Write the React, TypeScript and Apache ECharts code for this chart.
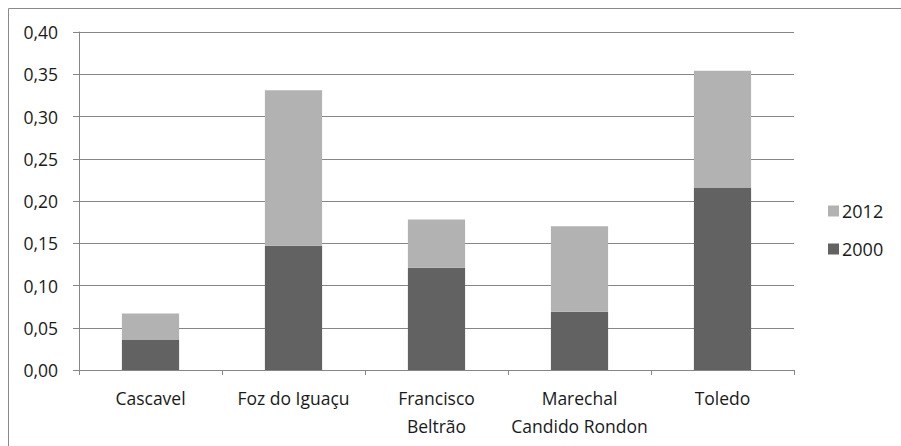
import React, { useEffect, useRef } from "react";
import * as echarts from "echarts";

const categories = ["Cascavel", "Foz do Iguaçu", "Francisco\nBeltrão", "Marechal\nCandido Rondon", "Toledo"];
const values2000 = [0.036, 0.147, 0.121, 0.069, 0.216];
const values2012 = [0.031, 0.184, 0.057, 0.101, 0.138];
const yTicks = { min: 0, max: 0.4, interval: 0.05 };

export default function App() {
  const ref = useRef<HTMLDivElement>(null);
  useEffect(() => {
    if (!ref.current) return;
    const chart = echarts.init(ref.current, null, { renderer: "svg" });
    const font = "'Open Sans', sans-serif";
    chart.setOption({
      animation: false,
      textStyle: { fontFamily: font },
      graphic: [
        {
          type: "rect",
          shape: { x: 8.5, y: 8.5, width: 900, height: 450 },
          style: { fill: "none", stroke: "#8a8a8a", lineWidth: 1 },
          silent: true,
        },
      ],
      grid: { left: 79, right: 107, top: 32, bottom: 76, containLabel: false },
      legend: {
        orient: "vertical",
        left: 828,
        top: 202,
        padding: 0,
        itemWidth: 11,
        itemHeight: 11,
        itemGap: 20,
        icon: "rect",
        data: ["2012", "2000"],
        textStyle: { fontFamily: font, fontSize: 18, color: "#1a1a1a", padding: [0, 0, 0, -2] },
      },
      xAxis: {
        type: "category",
        data: categories,
        axisLine: { lineStyle: { color: "#868686", width: 1 } },
        axisTick: { show: true, length: 5, lineStyle: { color: "#868686" } },
        axisLabel: { interval: 0, fontFamily: font, fontSize: 17.5, color: "#1a1a1a", margin: 14, lineHeight: 28 },
      },
      yAxis: {
        type: "value",
        min: yTicks.min,
        max: yTicks.max,
        interval: yTicks.interval,
        axisLine: { show: true, lineStyle: { color: "#868686", width: 1 } },
        axisTick: { show: true, length: 6, lineStyle: { color: "#868686" } },
        splitLine: { show: true, lineStyle: { color: "#868686", width: 1 } },
        axisLabel: {
          fontFamily: font,
          fontSize: 17.5,
          color: "#1a1a1a",
          margin: 21,
          formatter: (v: number) => v.toFixed(2).replace(".", ","),
        },
      },
      series: [
        {
          name: "2000",
          type: "bar",
          stack: "total",
          data: values2000,
          barWidth: "40%",
          itemStyle: { color: "#626262" },
        },
        {
          name: "2012",
          type: "bar",
          stack: "total",
          data: values2012,
          barWidth: "40%",
          itemStyle: { color: "#b2b2b2" },
        },
      ],
    });
    return () => chart.dispose();
  }, []);
  return <div ref={ref} style={{ width: 901, height: 446, position: "absolute", left: 0, top: 0 }} />;
}
